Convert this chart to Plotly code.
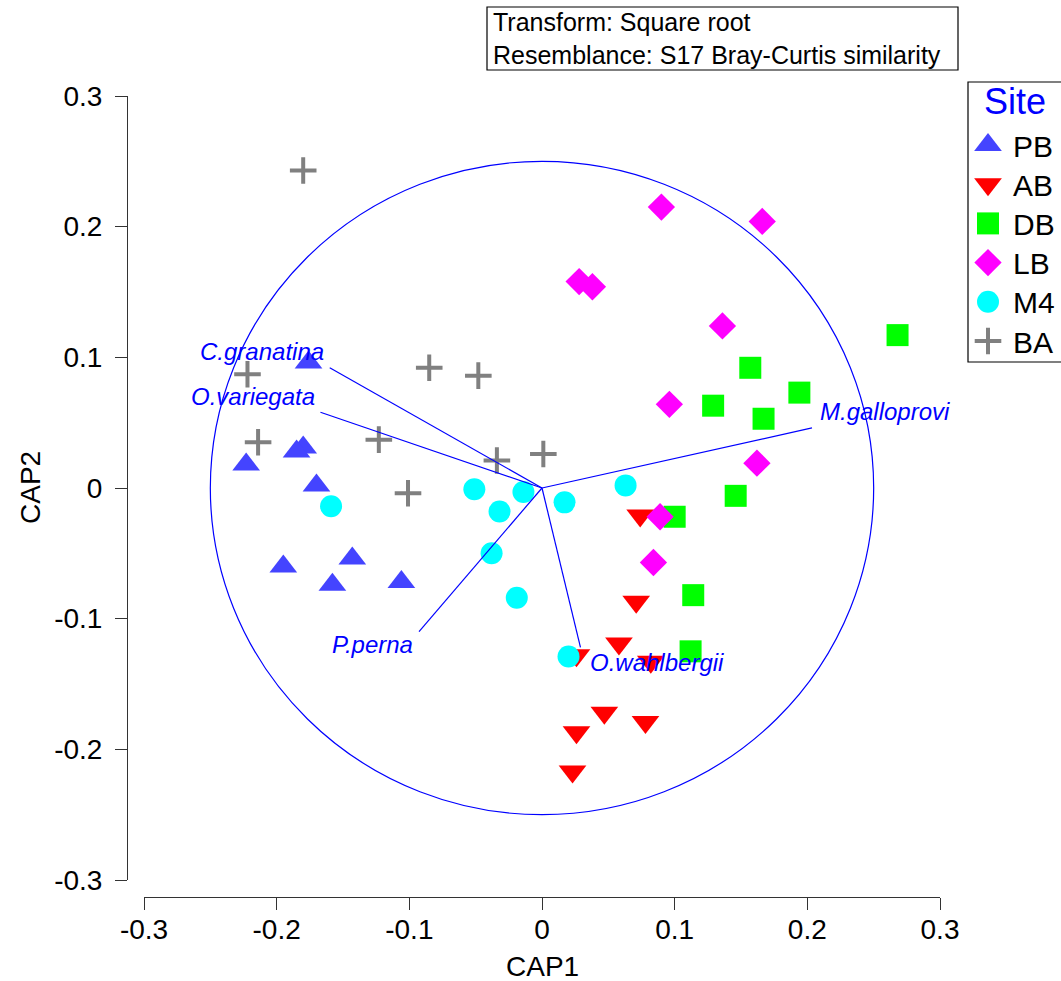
import plotly.graph_objects as go

W, H = 1061, 981
ML, MR, MT, MB = 127, 0, 96, 84

# ---------------- data ----------------
sites = ["PB", "AB", "DB", "LB", "M4", "BA"]

pb_x = [-0.176, -0.223, -0.180, -0.185, -0.170, -0.195, -0.143, -0.158, -0.106]
pb_y = [0.096, 0.018, 0.031, 0.028, 0.002, -0.060, -0.054, -0.074, -0.072]

ab_x = [0.074, 0.071, 0.058, 0.026, 0.082, 0.047, 0.078, 0.026, 0.023]
ab_y = [-0.021, -0.087, -0.119, -0.128, -0.133, -0.172, -0.179, -0.187, -0.217]

db_x = [0.268, 0.157, 0.194, 0.129, 0.167, 0.146, 0.100, 0.114, 0.112]
db_y = [0.117, 0.092, 0.073, 0.063, 0.053, -0.006, -0.022, -0.082, -0.125]

lb_x = [0.090, 0.166, 0.028, 0.038, 0.136, 0.096, 0.162, 0.089, 0.084]
lb_y = [0.215, 0.204, 0.158, 0.154, 0.124, 0.064, 0.019, -0.022, -0.057]

m4_x = [-0.159, -0.051, -0.032, -0.014, 0.017, 0.063, -0.038, -0.019, 0.020]
m4_y = [-0.014, -0.001, -0.018, -0.003, -0.011, 0.002, -0.050, -0.084, -0.129]

ba_x = [-0.180, -0.222, -0.214, -0.085, -0.048, -0.123, -0.034, 0.001, -0.101]
ba_y = [0.243, 0.087, 0.035, 0.092, 0.086, 0.037, 0.021, 0.026, -0.004]

vec_names = ["C.granatina", "O.variegata", "M.galloprovi", "P.perna", "O.wahlbergii"]
vec_x = [-0.160, -0.167, 0.2035, -0.0927, 0.029]
vec_y = [0.092, 0.058, 0.046, -0.110, -0.122]

circle_r = 0.25
ticks = [-0.3, -0.2, -0.1, 0, 0.1, 0.2, 0.3]
tick_text = ["-0.3", "-0.2", "-0.1", "0", "0.1", "0.2", "0.3"]

# ---------------- styles ----------------
series = {
    "PB": (pb_x, pb_y, "triangle-up", "#4444FF", 24),
    "AB": (ab_x, ab_y, "triangle-down", "#FF0000", 24),
    "DB": (db_x, db_y, "square", "#00FF00", 22),
    "LB": (lb_x, lb_y, "diamond", "#FF00FF", 21),
    "M4": (m4_x, m4_y, "circle", "#00FFFF", 22),
    "BA": (ba_x, ba_y, "cross-thin", "#808080", 19),
}
BLUE = "#0000FF"
FONT = "Arial, Liberation Sans, sans-serif"

PW = W - ML - MR
PH = H - MT - MB


def px(xp):
    return (xp - ML) / PW


def py(yp):
    return (H - MB - yp) / PH


fig = go.Figure()

for s in sites:
    xs, ys, sym, col, sz = series[s]
    mk = dict(symbol=sym, color=col, size=sz)
    if sym == "cross-thin":
        mk["line"] = dict(color=col, width=4)
    else:
        mk["line"] = dict(width=0)
    fig.add_trace(go.Scatter(x=xs, y=ys, mode="markers", marker=mk, name=s,
                             xaxis="x", yaxis="y", cliponaxis=False))

# vectors
for vx, vy in zip(vec_x, vec_y):
    fig.add_trace(go.Scatter(x=[0, vx], y=[0, vy], mode="lines",
                             line=dict(color=BLUE, width=1.2),
                             xaxis="x", yaxis="y", showlegend=False))

# vector labels
label_anchor = {
    "C.granatina": ("right", -4, 16),
    "O.variegata": ("right", -3, 16),
    "M.galloprovi": ("left", 6, 16),
    "P.perna": ("right", -4, -13),
    "O.wahlbergii": ("left", 8, -15),
}
annotations = []
for name, vx, vy in zip(vec_names, vec_x, vec_y):
    xa, xs_, ys_ = label_anchor[name]
    annotations.append(dict(x=vx, y=vy, xref="x", yref="y", text="<i>%s</i>" % name,
                            showarrow=False, xanchor=xa, yanchor="middle",
                            xshift=xs_, yshift=ys_,
                            font=dict(family=FONT, size=24, color=BLUE)))

shapes = [dict(type="circle", xref="x", yref="y", x0=-circle_r, x1=circle_r,
               y0=-circle_r, y1=circle_r, line=dict(color=BLUE, width=1.2),
               layer="below")]

# ---------------- legend (manual, large symbols) ----------------
leg_left, leg_top, leg_bot = 968, 82, 362
shapes.append(dict(type="rect", xref="paper", yref="paper",
                   x0=px(leg_left), x1=px(W + 20), y0=py(leg_bot), y1=py(leg_top),
                   line=dict(color="black", width=1.2)))
annotations.append(dict(x=px(1015), y=py(101), xref="paper", yref="paper",
                        text="Site", showarrow=False, xanchor="center", yanchor="middle",
                        font=dict(family=FONT, size=36, color=BLUE)))
row0, row_step = 145, 39.2
for i, s in enumerate(sites):
    xs, ys, sym, col, sz = series[s]
    mk = dict(symbol=sym, color=col, size=sz)
    if sym == "cross-thin":
        mk["line"] = dict(color=col, width=4)
    else:
        mk["line"] = dict(width=0)
    yrow = row0 + i * row_step
    fig.add_trace(go.Scatter(x=[988], y=[yrow], mode="markers", marker=mk,
                             xaxis="x2", yaxis="y2", showlegend=False, cliponaxis=False))
    annotations.append(dict(x=px(1011), y=py(yrow + 1), xref="paper", yref="paper",
                            text=s, showarrow=False, xanchor="left", yanchor="middle",
                            font=dict(family=FONT, size=30, color="black")))

# ---------------- top info box ----------------
shapes.append(dict(type="rect", xref="paper", yref="paper",
                   x0=px(487), x1=px(958), y0=py(70), y1=py(7),
                   line=dict(color="black", width=1.2)))
annotations.append(dict(x=px(491), y=py(38.5), xref="paper", yref="paper",
                        text="Transform: Square root<br>Resemblance: S17 Bray-Curtis similarity",
                        showarrow=False, xanchor="left", yanchor="middle", align="left",
                        font=dict(family=FONT, size=25, color="black")))

# axis titles
annotations.append(dict(x=px(542), y=py(966), xref="paper", yref="paper", text="CAP1",
                        showarrow=False, xanchor="center", yanchor="middle",
                        font=dict(family=FONT, size=28, color="black")))
annotations.append(dict(x=px(30), y=py(488), xref="paper", yref="paper", text="CAP2",
                        showarrow=False, xanchor="center", yanchor="middle", textangle=-90,
                        font=dict(family=FONT, size=28, color="black")))

axis_common = dict(range=[-0.3, 0.3], tickmode="array", tickvals=ticks, ticktext=tick_text,
                   showgrid=False, zeroline=False, showline=True, linecolor="#333333",
                   linewidth=1, ticks="outside", ticklen=12, tickcolor="#333333", tickwidth=1,
                   tickfont=dict(family=FONT, size=28, color="black"), anchor="free",
                   position=0, fixedrange=True, automargin=False)

fig.update_layout(
    template="none",
    width=W, height=H, autosize=False,
    margin=dict(l=ML, r=MR, t=MT, b=MB, pad=0, autoexpand=False),
    plot_bgcolor="white", paper_bgcolor="white",
    showlegend=False,
    xaxis=dict(domain=[px(144), px(940)], ticklabelstandoff=-5, **axis_common),
    yaxis=dict(domain=[py(880), 1], ticklabelstandoff=7, **axis_common),
    xaxis2=dict(domain=[px(leg_left), 1], range=[leg_left, W], visible=False,
                fixedrange=True, anchor="y2", automargin=False),
    yaxis2=dict(domain=[0, 1], range=[H - MB, MT], anchor="x2", visible=False,
                fixedrange=True, automargin=False),
    shapes=shapes,
    annotations=annotations,
)

post = ("document.body.style.margin='0';document.body.style.overflow='hidden';"
        "var gd=document.getElementById('{plot_id}');"
        "Plotly.relayout(gd,{width:%d,height:%d});" % (W, H))
fig.write_html("out.html", config={"responsive": False, "displayModeBar": False},
               post_script=post)
